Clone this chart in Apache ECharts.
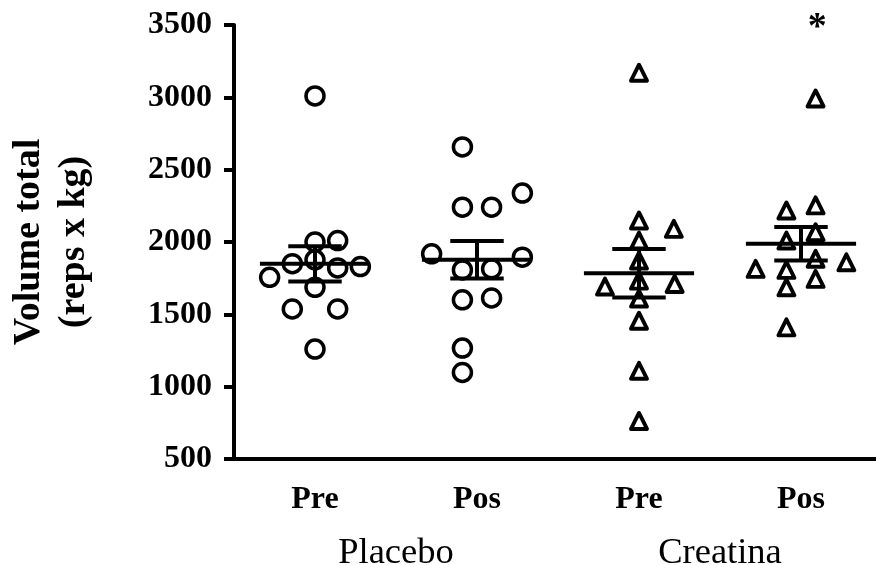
<!DOCTYPE html>
<html>
<head>
<meta charset="utf-8">
<script src="https://cdn.jsdelivr.net/npm/echarts@6/dist/echarts.min.js"></script>
<style>
  html, body { margin: 0; padding: 0; background: #fff; }
  #chart { width: 876px; height: 565px; }
</style>
</head>
<body>
<div id="chart"></div>
<script>
// categories
const conditions = ['Pre', 'Pos', 'Pre', 'Pos'];
const groups = ['Placebo', 'Creatina'];

// individual values (reps x kg)
const placeboPre = [3010, 2000, 2010, 1850, 1877, 1821, 1830, 1756, 1687, 1537, 1537, 1260];
const placeboPos = [2657, 2338, 2241, 2241, 1918, 1895, 1807, 1815, 1600, 1613, 1267, 1098];
const creatinaPre = [3170, 2149, 2091, 2010, 1872, 1733, 1609, 1456, 1110, 763, 1692, 1710];
const creatinaPos = [2218, 2253, 2068, 2010, 1884, 1814, 1860, 1807, 1745, 1687, 1410, 2992];

// horizontal spread of each point (fraction of a category width)
const placeboPreSpread = [0, 0, 0.14, -0.14, 0, 0.14, 0.28, -0.28, 0, -0.14, 0.14, 0];
const placeboPosSpread = [-0.09, 0.28, -0.09, 0.09, -0.28, 0.28, -0.09, 0.09, -0.09, 0.09, -0.09, -0.09];
const creatinaPreSpread = [0, 0, 0.215, 0, 0, 0, 0, 0, 0, 0, -0.21, 0.22];
const creatinaPosSpread = [-0.09, 0.09, 0.09, -0.09, 0.09, -0.28, 0.28, -0.09, 0.09, -0.09, -0.09, 0.09];

// mean and SEM per column
const means = [1849, 1877, 1784, 1988];
const sems = [122, 130, 168, 116];

// significance marks
const signifColumn = [3];
const signifText = ['*'];

const FONT = 'Liberation Serif';

function points(values, spread, col) {
    return values.map((v, i) => [col + spread[i], v]);
}

function dotSeries(values, spread, col, symbol, size, border) {
    return {
        type: 'scatter',
        xAxisIndex: 1,
        symbol: symbol,
        symbolSize: size,
        itemStyle: {
            color: '#fff',
            borderColor: '#000',
            borderWidth: border,
            borderJoin: 'round',
            opacity: 1
        },
        emphasis: { disabled: true },
        z: 2,
        data: points(values, spread, col)
    };
}

const chart = echarts.init(document.getElementById('chart'));

const option = {
    animation: false,
    grid: {
        left: 234,
        right: -6,
        top: 25,
        bottom: 106,
        outerBoundsMode: 'none'
    },
    xAxis: [
        {
            type: 'category',
            data: conditions,
            position: 'bottom',
            axisLine: { onZero: false, lineStyle: { color: '#000', width: 4 } },
            axisTick: { length: 10, lineStyle: { color: '#000', width: 4 } },
            axisLabel: {
                color: '#000',
                fontFamily: FONT,
                fontWeight: 'bold',
                fontSize: 32,
                margin: 25
            },
            splitLine: { show: false }
        },
        {
            type: 'value',
            min: -0.5,
            max: 3.5,
            show: false
        },
        {
            type: 'category',
            data: groups,
            position: 'bottom',
            axisLine: { show: false, onZero: false },
            axisTick: { show: false },
            axisLabel: {
                color: '#000',
                fontFamily: FONT,
                fontSize: 36.5,
                margin: 76
            },
            splitLine: { show: false }
        }
    ],
    yAxis: {
        type: 'value',
        min: 500,
        max: 3500,
        interval: 500,
        name: 'Volume total\n(reps x kg)',
        nameLocation: 'middle',
        nameGap: 137,
        nameTextStyle: {
            color: '#000',
            fontFamily: FONT,
            fontWeight: 'bold',
            fontSize: 38,
            lineHeight: 45
        },
        axisLine: { show: true, onZero: false, lineStyle: { color: '#000', width: 4 } },
        axisTick: { show: true, length: 10, lineStyle: { color: '#000', width: 4 } },
        axisLabel: {
            color: '#000',
            fontFamily: FONT,
            fontWeight: 'bold',
            fontSize: 32,
            margin: 22,
            formatter: v => String(v)
        },
        splitLine: { show: false }
    },
    series: [
        dotSeries(placeboPre, placeboPreSpread, 0, 'circle', 18, 3.5),
        dotSeries(placeboPos, placeboPosSpread, 1, 'circle', 18, 3.5),
        dotSeries(creatinaPre, creatinaPreSpread, 2, 'triangle', 16, 3.9),
        dotSeries(creatinaPos, creatinaPosSpread, 3, 'triangle', 16, 3.9),
        {
            // mean +/- SEM
            type: 'custom',
            xAxisIndex: 1,
            z: 5,
            data: means.map((m, i) => [i, m, sems[i]]),
            renderItem: function (params, api) {
                const col = api.value(0);
                const m = api.value(1);
                const s = api.value(2);
                const c = api.coord([col, m]);
                const hi = api.coord([col, m + s]);
                const lo = api.coord([col, m - s]);
                const meanHalf = api.size([0.34, 0])[0];
                const semHalf = api.size([0.165, 0])[0];
                const style = { stroke: '#000', lineWidth: 4, fill: null };
                return {
                    type: 'group',
                    children: [
                        { type: 'line', shape: { x1: c[0] - meanHalf, y1: c[1], x2: c[0] + meanHalf, y2: c[1] }, style: style },
                        { type: 'line', shape: { x1: c[0] - semHalf, y1: hi[1], x2: c[0] + semHalf, y2: hi[1] }, style: style },
                        { type: 'line', shape: { x1: c[0] - semHalf, y1: lo[1], x2: c[0] + semHalf, y2: lo[1] }, style: style },
                        { type: 'line', shape: { x1: c[0], y1: hi[1], x2: c[0], y2: lo[1] }, style: style }
                    ]
                };
            }
        },
        {
            // significance asterisk
            type: 'scatter',
            xAxisIndex: 1,
            symbol: 'circle',
            symbolSize: 1,
            itemStyle: { color: 'rgba(0,0,0,0)', opacity: 1 },
            clip: false,
            silent: true,
            z: 6,
            data: signifColumn.map((col, i) => ({ value: [col + 0.1, 3480], text: signifText[i] })),
            label: {
                show: true,
                position: 'inside',
                formatter: p => p.data.text,
                color: '#000',
                opacity: 1,
                fontFamily: FONT,
                fontWeight: 'bold',
                fontSize: 38
            }
        }
    ]
};

chart.setOption(option);

window.addEventListener('resize', () => {
    chart.resize();
});
</script>
</body>
</html>
